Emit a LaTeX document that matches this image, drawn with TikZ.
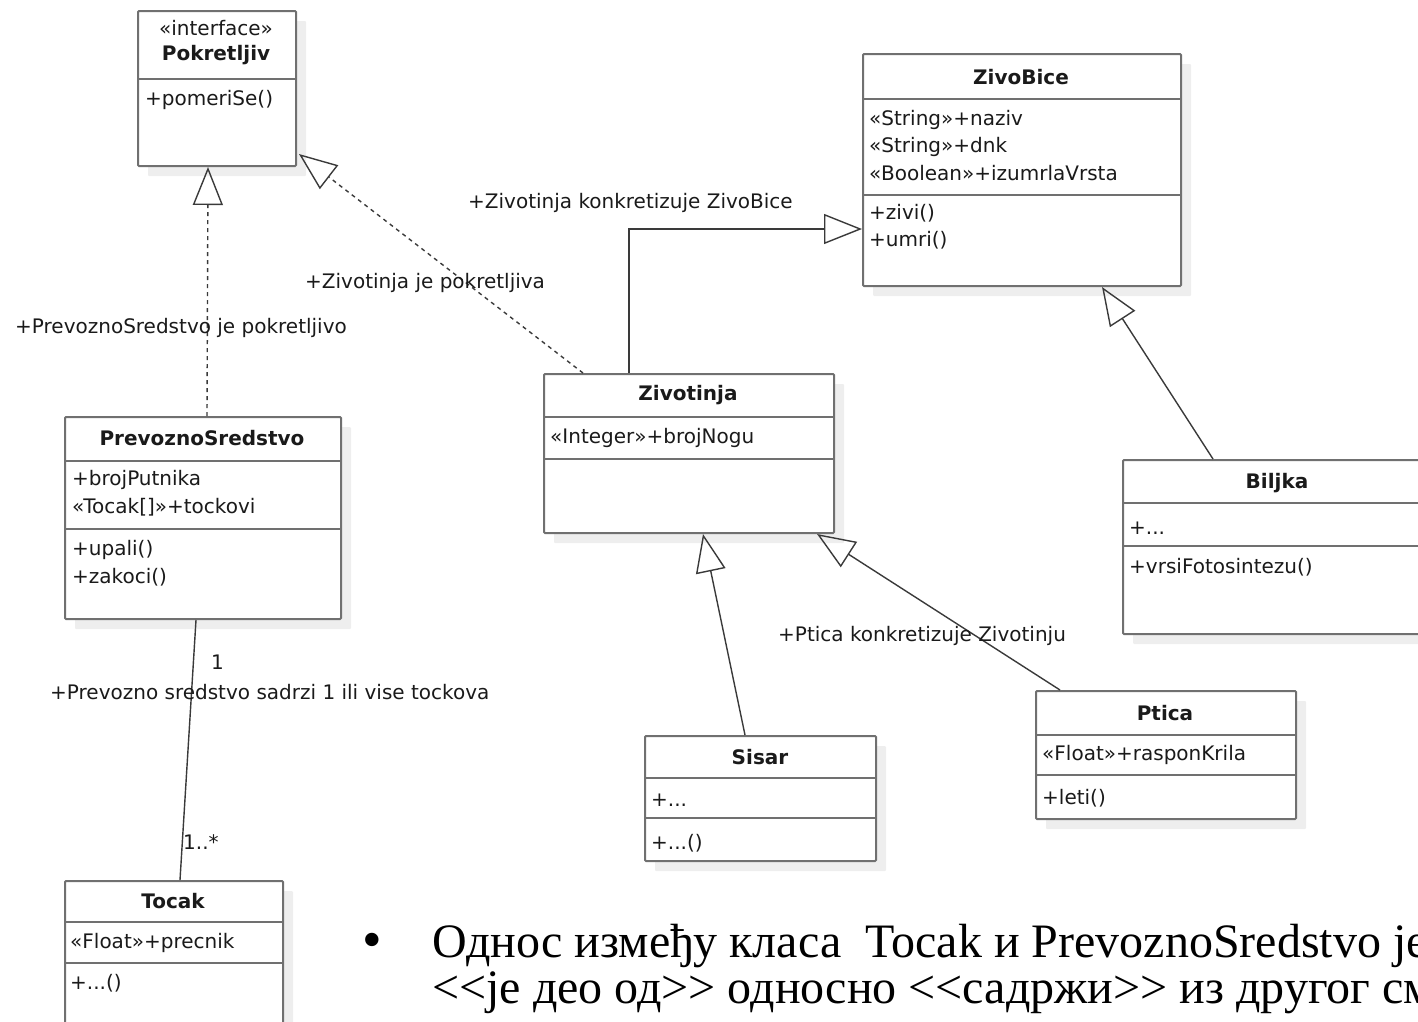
\documentclass[tikz,border=0pt]{standalone}
\usepackage{fontspec}
\setmainfont{DejaVu Sans}
\newfontfamily\serifbody{Liberation Serif}
\usetikzlibrary{arrows.meta,shadows}
\definecolor{boxc}{HTML}{707070}
\definecolor{linec}{HTML}{3A3A3A}
\definecolor{shc}{HTML}{EEEEEE}
\definecolor{txt}{HTML}{1A1A1A}
\newcommand\dlt{<\kern0pt<}
\newcommand\dgt{>\kern0pt>}
\tikzset{
 umlbox/.style={draw=boxc, line width=2pt, fill=white, rounded corners=1pt, inner sep=0pt, anchor=north west,
   drop shadow={shadow xshift=10pt, shadow yshift=-10pt, fill=shc, opacity=1}},
 sepline/.style={draw=boxc, line width=2pt},
 ttl/.style={font=\fontsize{20}{22}\selectfont\bfseries, text=txt, inner sep=0pt},
 mem/.style={font=\fontsize{20}{22}\selectfont, text=txt, inner sep=0pt, anchor=west},
 lbl/.style={font=\fontsize{20}{22}\selectfont, text=txt, inner sep=0pt, anchor=west},
 conn/.style={draw=linec, line width=1.4pt},
 gen/.style={conn, -{Triangle[open, length=38pt, width=30pt, line width=1.4pt]}},
 realz/.style={gen, dash pattern=on 4pt off 4pt},
 body/.style={font=\serifbody\fontsize{48}{46}\selectfont, text=black, inner sep=0pt, anchor=base west},
}
\begin{document}
\begin{tikzpicture}[x=1pt,y=-1pt]
\useasboundingbox (0,0) rectangle (1418,1021);
\clip (0,0) rectangle (1418,1021);

% ---------- class boxes ----------
\node[umlbox, minimum width=158pt, minimum height=155pt] (pok) at (137,10) {};
\draw[sepline] (137,79) -- (295,79);
\node[ttl, font=\fontsize{20}{22}\selectfont] (pokst) at (216,28) {«interface»};
\node[ttl] (pokt) at (216,55) {Pokretljiv};
\node[mem] (pokm1) at (145,100) {+pomeriSe()};

\node[umlbox, minimum width=276pt, minimum height=202pt] (prev) at (64,416) {};
\draw[sepline] (64,461) -- (340,461);
\draw[sepline] (64,529) -- (340,529);
\node[ttl] (prevt) at (202,438) {PrevoznoSredstvo};
\node[mem] (preva1) at (72,480) {+brojPutnika};
\node[mem] (preva2) at (72,507) {«Tocak[]»+tockovi};
\node[mem] (prevm1) at (72,550) {+upali()};
\node[mem] (prevm2) at (72,577) {+zakoci()};

\node[umlbox, minimum width=218pt, minimum height=170pt] (toc) at (64,880) {};
\draw[sepline] (64,922) -- (282,922);
\draw[sepline] (64,963) -- (282,963);
\node[ttl] (toct) at (173,901) {Tocak};
\node[mem] (toca1) at (70,943) {«Float»+precnik};
\node[mem] (tocm1) at (70,983) {+...()};

\node[umlbox, minimum width=318pt, minimum height=232pt] (zivo) at (862,53) {};
\draw[sepline] (862,99) -- (1180,99);
\draw[sepline] (862,195) -- (1180,195);
\node[ttl] (zivot) at (1021,77) {ZivoBice};
\node[mem] (zivoa1) at (869,120) {«String»+naziv};
\node[mem] (zivoa2) at (869,147) {«String»+dnk};
\node[mem] (zivoa3) at (869,173) {«Boolean»+izumrlaVrsta};
\node[mem] (zivom1) at (869,213) {+zivi()};
\node[mem] (zivom2) at (869,240) {+umri()};

\node[umlbox, minimum width=290pt, minimum height=159pt] (ziv) at (543,373) {};
\draw[sepline] (543,417) -- (833,417);
\draw[sepline] (543,459) -- (833,459);
\node[ttl] (zivt) at (688,395) {Zivotinja};
\node[mem] (ziva1) at (550,438) {«Integer»+brojNogu};

\node[umlbox, minimum width=310pt, minimum height=174pt] (bil) at (1122,459) {};
\draw[sepline] (1122,503) -- (1432,503);
\draw[sepline] (1122,546) -- (1432,546);
\node[ttl] (bilt) at (1277,483) {Biljka};
\node[mem] (bila1) at (1129,528) {+...};
\node[mem] (bilm1) at (1129,567) {+vrsiFotosintezu()};

\node[umlbox, minimum width=231pt, minimum height=125pt] (sis) at (644,735) {};
\draw[sepline] (644,778) -- (875,778);
\draw[sepline] (644,818) -- (875,818);
\node[ttl] (sist) at (760,757) {Sisar};
\node[mem] (sisa1) at (651,800) {+...};
\node[mem] (sism1) at (651,843) {+...()};

\node[umlbox, minimum width=260pt, minimum height=128pt] (pti) at (1035,690) {};
\draw[sepline] (1035,735) -- (1295,735);
\draw[sepline] (1035,775) -- (1295,775);
\node[ttl] (ptit) at (1165,713) {Ptica};
\node[mem] (ptia1) at (1042,755) {«Float»+rasponKrila};
\node[mem] (ptim1) at (1042,798) {+leti()};

% ---------- connectors ----------
\draw[realz] ([xshift=143pt]prev.north west) -- ([xshift=71pt]pok.south west);
\draw[realz] ([xshift=40pt]ziv.north west) -- ([xshift=2pt,yshift=13pt]pok.south east);
\draw[gen] ([xshift=86pt]ziv.north west) |- ([yshift=-59pt]zivo.west);
\draw[gen] ([xshift=91pt]bil.north west) -- ([xshift=-80pt]zivo.south east);
\draw[gen] ([xshift=101pt]sis.north west) -- ([xshift=160pt]ziv.south west);
\draw[gen] ([xshift=25pt]pti.north west) -- ([xshift=-18pt]ziv.south east);
\draw[conn] ([xshift=132pt]prev.south west) -- ([xshift=116pt]toc.north west);

% ---------- labels ----------
\node[lbl] (l1) at (15,328) {+PrevoznoSredstvo je pokretljivo};
\node[lbl] (l2) at (305,283) {+Zivotinja je pokretljiva};
\node[lbl] (l3) at (468,203) {+Zivotinja konkretizuje ZivoBice};
\node[lbl] (l4) at (778,636) {+Ptica konkretizuje Zivotinju};
\node[lbl] (l5) at (211,662) {1};
\node[lbl] (l6) at (50,692) {+Prevozno sredstvo sadrzi 1 ili vise tockova};
\node[lbl] (l7) at (183,842) {1..*};

% ---------- bottom text ----------
\node[font=\serifbody\fontsize{56}{56}\selectfont, inner sep=0pt] (bul) at (372,946) {•};
\node[body] (b1) at (432,957) {Однос између класа \ Tocak и PrevoznoSredstvo je};
\node[body] (b2) at (432,1003) {\dlt је део од\dgt{} односно \dlt садржи\dgt{} из другог смисла};
\end{tikzpicture}
\end{document}
